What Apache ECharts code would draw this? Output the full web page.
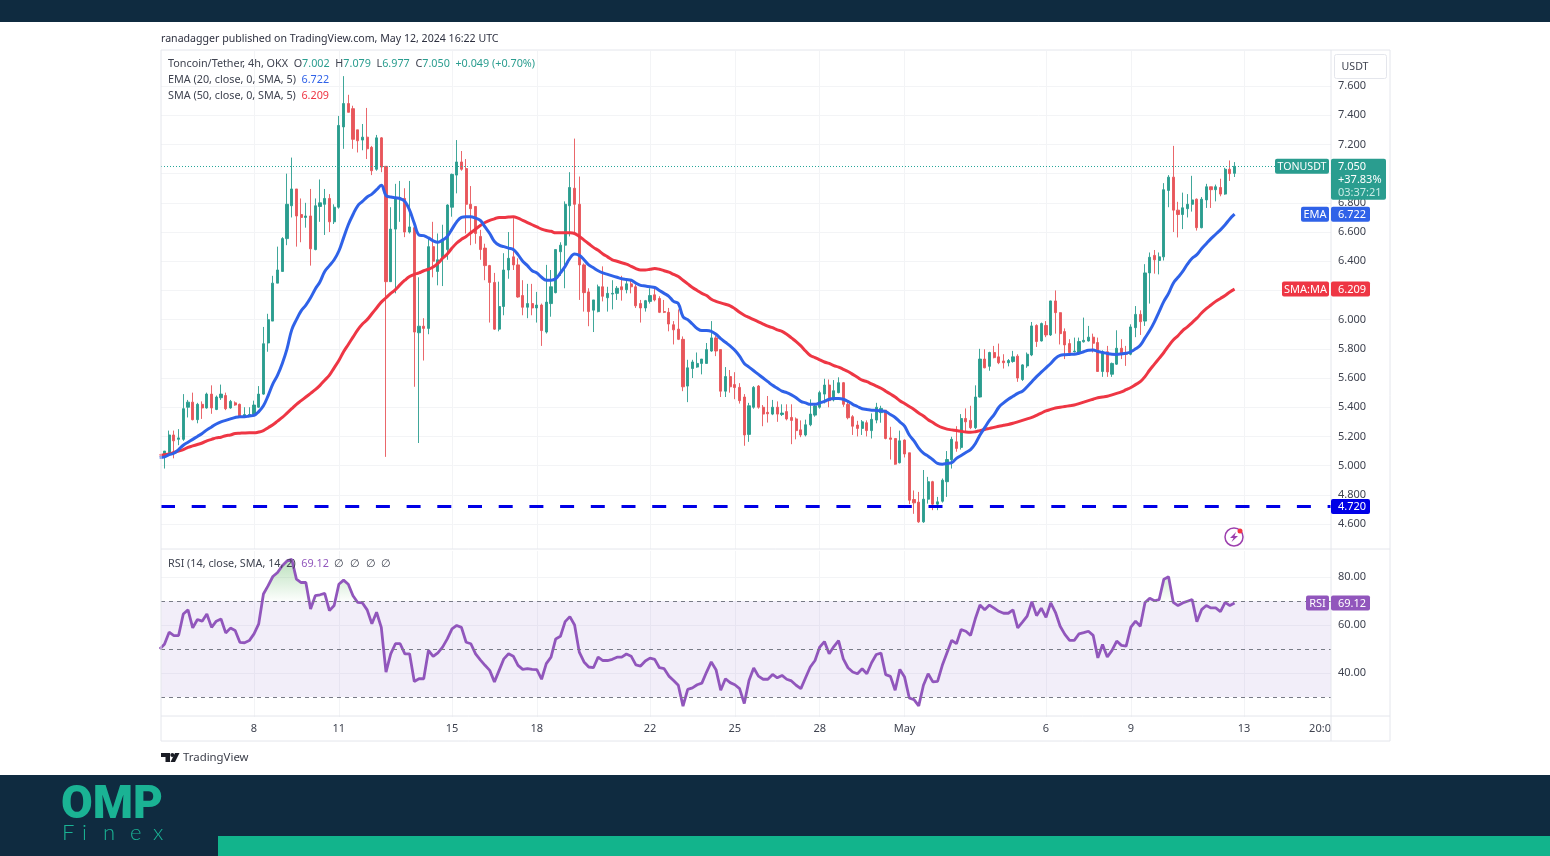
<!DOCTYPE html>
<html>
<head>
<meta charset="utf-8">
<title>TONUSDT 4h</title>
<script src="https://cdn.jsdelivr.net/npm/echarts@6/dist/echarts.min.js"></script>
<style>
  html, body { margin: 0; padding: 0; background: #fff; }
  #chart { width: 1550px; height: 856px; }
</style>
</head>
<body>
<div id="chart"></div>
<script>
// 4h bars, first one opens Apr 4 16:00 UTC, last one May 12 16:00 UTC
const firstBar = Date.UTC(2024, 3, 4, 16)
const barMs = 4 * 3600 * 1000

// [open, close, low, high]
const candles = [
  [5.08,5.05,5.04,5.10],[5.06,5.10,4.98,5.10],[5.09,5.21,5.08,5.24],[5.21,5.17,5.05,5.24],
  [5.18,5.19,5.14,5.25],[5.18,5.39,5.17,5.49],[5.40,5.435,5.33,5.45],[5.435,5.315,5.31,5.50],
  [5.315,5.42,5.29,5.43],[5.42,5.395,5.32,5.44],[5.395,5.49,5.39,5.50],[5.49,5.395,5.355,5.55],
  [5.385,5.47,5.38,5.48],[5.465,5.49,5.45,5.555],[5.48,5.39,5.38,5.50],[5.395,5.44,5.39,5.45],
  [5.43,5.415,5.41,5.44],[5.42,5.34,5.335,5.425],[5.34,5.35,5.335,5.40],[5.34,5.35,5.335,5.40],
  [5.35,5.415,5.34,5.445],[5.40,5.49,5.395,5.545],[5.49,5.835,5.485,5.95],[5.84,6.0,5.78,6.04],
  [5.99,6.25,5.99,6.30],[6.25,6.34,6.25,6.50],[6.33,6.555,6.33,6.565],[6.555,6.79,6.51,7.0],
  [6.78,6.895,6.70,7.11],[6.895,6.71,6.50,6.895],[6.72,6.70,6.53,6.83],[6.70,6.71,6.63,6.80],
  [6.71,6.485,6.37,6.895],[6.48,6.78,6.475,6.83],[6.775,6.80,6.67,6.96],[6.79,6.83,6.58,6.895],
  [6.83,6.67,6.60,6.86],[6.67,6.77,6.655,6.79],[6.77,7.33,6.76,7.395],[7.32,7.48,7.17,7.668],
  [7.48,7.42,7.42,7.54],[7.445,7.235,7.17,7.465],[7.30,7.225,7.145,7.30],[7.23,7.25,7.16,7.34],
  [7.25,7.17,7.10,7.45],[7.18,7.02,6.99,7.19],[7.03,7.245,7.02,7.265],[7.245,7.045,7.01,7.25],
  [7.05,6.26,5.06,7.05],[6.26,6.62,6.26,6.77],[6.62,6.83,6.18,6.93],[6.82,6.83,6.67,6.95],
  [6.83,6.60,6.565,6.90],[6.60,6.635,6.59,6.95],[6.63,5.915,5.54,6.63],[5.91,5.955,5.155,6.29],
  [5.955,5.94,5.72,6.01],[5.94,6.50,5.90,6.555],[6.50,6.40,6.29,6.67],[6.33,6.41,6.235,6.59],
  [6.42,6.55,6.23,6.65],[6.48,6.785,6.41,6.79],[6.77,6.995,6.705,7.0],[6.99,7.08,6.865,7.23],
  [7.08,7.03,7.02,7.155],[7.035,6.79,6.59,7.10],[6.79,6.76,6.51,6.915],[6.775,6.59,6.52,6.775],
  [6.57,6.48,6.41,6.615],[6.49,6.37,6.27,6.52],[6.37,6.255,5.98,6.375],[6.255,5.935,5.93,6.32],
  [5.935,6.09,5.92,6.26],[6.09,6.34,6.03,6.455],[6.34,6.42,6.28,6.60],[6.43,6.375,6.34,6.695],
  [6.375,6.155,6.15,6.42],[6.165,6.085,6.03,6.27],[6.085,6.11,6.01,6.245],[6.11,6.08,6.03,6.245],
  [6.08,6.10,5.98,6.19],[6.10,5.925,5.82,6.11],[5.915,6.12,5.905,6.375],[6.11,6.225,6.02,6.34],
  [6.185,6.48,6.18,6.48],[6.465,6.51,6.30,6.53],[6.51,6.79,6.215,6.81],[6.78,6.905,6.57,7.01],
  [6.90,6.79,6.59,7.24],[6.79,6.375,6.135,6.98],[6.375,6.185,6.055,6.385],[6.19,6.055,5.955,6.215],
  [6.065,6.135,5.915,6.135],[6.055,6.225,6.05,6.24],[6.225,6.16,6.125,6.365],[6.15,6.18,6.055,6.225],
  [6.175,6.18,6.07,6.27],[6.18,6.215,6.135,6.23],[6.225,6.205,6.13,6.30],[6.205,6.245,6.18,6.27],
  [6.245,6.225,6.18,6.27],[6.225,6.095,6.08,6.24],[6.11,6.08,5.98,6.135],[6.08,6.13,6.055,6.135],
  [6.125,6.165,6.11,6.215],[6.17,6.135,6.125,6.215],[6.145,6.05,6.045,6.16],[6.055,6.05,6.045,6.135],
  [6.05,5.97,5.92,6.08],[5.965,5.93,5.83,5.99],[5.935,5.865,5.86,6.07],[5.865,5.54,5.51,5.885],
  [5.545,5.67,5.435,5.725],[5.665,5.71,5.60,5.725],[5.675,5.70,5.67,5.775],[5.70,5.73,5.625,5.73],
  [5.70,5.795,5.70,5.84],[5.785,5.875,5.78,5.99],[5.875,5.785,5.75,5.89],[5.795,5.51,5.47,5.795],
  [5.51,5.61,5.47,5.675],[5.61,5.54,5.50,5.655],[5.555,5.535,5.455,5.64],[5.536,5.445,5.425,5.565],
  [5.47,5.21,5.136,5.49],[5.214,5.41,5.163,5.43],[5.40,5.536,5.39,5.545],[5.545,5.40,5.39,5.552],
  [5.40,5.353,5.27,5.415],[5.365,5.355,5.295,5.477],[5.353,5.40,5.346,5.45],[5.40,5.353,5.30,5.44],
  [5.35,5.36,5.34,5.42],[5.37,5.32,5.31,5.42],[5.33,5.31,5.147,5.42],[5.32,5.24,5.18,5.33],
  [5.245,5.21,5.195,5.31],[5.21,5.28,5.20,5.315],[5.28,5.353,5.27,5.454],[5.346,5.408,5.335,5.426],
  [5.40,5.50,5.39,5.513],[5.49,5.552,5.426,5.595],[5.552,5.445,5.40,5.59],[5.45,5.513,5.44,5.586],
  [5.50,5.568,5.495,5.605],[5.568,5.42,5.403,5.573],[5.42,5.328,5.317,5.437],[5.335,5.27,5.21,5.346],
  [5.278,5.255,5.20,5.307],[5.255,5.30,5.21,5.312],[5.294,5.24,5.20,5.31],[5.24,5.317,5.186,5.358],
  [5.312,5.40,5.29,5.43],[5.363,5.392,5.294,5.41],[5.38,5.186,5.18,5.38],[5.19,5.18,5.042,5.266],
  [5.186,5.01,5.006,5.186],[5.02,5.17,5.015,5.24],[5.175,5.08,5.056,5.18],[5.088,4.763,4.736,5.088],
  [4.768,4.745,4.67,4.83],[4.75,4.615,4.608,4.82],[4.615,4.77,4.608,4.97],[4.77,4.89,4.74,4.923],
  [4.89,4.736,4.695,4.896],[4.736,4.752,4.695,4.786],[4.756,4.90,4.747,4.912],[4.89,5.042,4.786,5.10],
  [5.04,5.18,4.98,5.198],[5.163,5.118,5.095,5.27],[5.125,5.323,5.11,5.353],[5.323,5.30,5.23,5.392],
  [5.31,5.26,5.25,5.41],[5.26,5.47,5.25,5.55],[5.47,5.73,5.467,5.80],[5.73,5.67,5.667,5.797],
  [5.68,5.775,5.65,5.78],[5.775,5.74,5.735,5.82],[5.745,5.705,5.695,5.836],[5.717,5.705,5.665,5.763],
  [5.705,5.72,5.68,5.73],[5.713,5.745,5.705,5.786],[5.75,5.60,5.574,5.763],[5.59,5.69,5.58,5.695],
  [5.683,5.763,5.67,5.775],[5.758,5.957,5.75,5.984],[5.96,5.85,5.813,5.968],[5.854,5.973,5.85,5.98],
  [5.96,5.895,5.88,5.99],[5.895,6.128,5.888,6.13],[6.128,6.048,5.904,6.20],[6.048,5.904,5.83,6.05],
  [5.918,5.827,5.73,5.94],[5.836,5.775,5.768,5.866],[5.78,5.785,5.775,5.877],[5.775,5.85,5.768,5.877],
  [5.848,5.858,5.843,6.014],[5.854,5.88,5.85,5.957],[5.88,5.838,5.775,5.904],[5.843,5.645,5.642,5.877],
  [5.645,5.78,5.608,5.79],[5.78,5.642,5.608,5.82],[5.626,5.70,5.608,5.706],[5.695,5.804,5.69,5.927],
  [5.804,5.768,5.73,5.866],[5.775,5.763,5.683,5.82],[5.763,5.95,5.756,5.968],[5.945,6.036,5.88,6.093],
  [6.036,5.986,5.895,6.064],[5.99,6.32,5.957,6.38],[6.32,6.427,6.11,6.46],[6.44,6.41,6.315,6.477],
  [6.405,6.43,6.31,6.46],[6.43,6.89,6.405,6.935],[6.885,6.976,6.77,6.99],[6.976,6.75,6.60,7.19],
  [6.75,6.72,6.563,6.807],[6.72,6.766,6.62,6.87],[6.76,6.79,6.70,6.86],[6.79,6.82,6.74,6.985],
  [6.825,6.63,6.61,6.83],[6.63,6.825,6.625,6.84],[6.82,6.91,6.765,6.93],[6.91,6.89,6.765,6.91],
  [6.89,6.91,6.81,6.925],[6.905,6.86,6.845,6.965],[6.86,7.03,6.855,7.04],[7.03,7.0,6.95,7.09],
  [7.002,7.05,6.977,7.079]
]

const ema20 = [
  5.055,5.06,5.075,5.085,5.11,5.14,5.16,5.18,5.20,5.22,5.245,5.265,5.285,5.30,5.31,5.32,
  5.33,5.335,5.335,5.34,5.344,5.37,5.41,5.48,5.56,5.62,5.70,5.80,5.93,6.00,6.06,6.10,
  6.15,6.21,6.26,6.33,6.37,6.41,6.47,6.56,6.65,6.72,6.78,6.81,6.84,6.86,6.89,6.92,
  6.85,6.84,6.835,6.83,6.81,6.75,6.66,6.58,6.575,6.56,6.54,6.53,6.545,6.57,6.62,6.67,
  6.70,6.705,6.705,6.695,6.68,6.635,6.59,6.535,6.51,6.50,6.49,6.48,6.445,6.40,6.37,6.335,
  6.32,6.29,6.27,6.27,6.28,6.32,6.365,6.42,6.45,6.44,6.41,6.375,6.355,6.335,6.32,6.31,
  6.30,6.29,6.28,6.275,6.27,6.25,6.235,6.23,6.225,6.22,6.20,6.18,6.16,6.125,6.11,6.02,
  6.0,5.97,5.94,5.925,5.925,5.92,5.90,5.87,5.845,5.82,5.79,5.75,5.70,5.675,5.65,5.625,
  5.60,5.575,5.55,5.53,5.51,5.50,5.485,5.465,5.44,5.43,5.42,5.42,5.43,5.44,5.455,5.46,
  5.46,5.455,5.44,5.42,5.405,5.39,5.385,5.38,5.378,5.375,5.37,5.35,5.33,5.30,5.27,5.21,
  5.17,5.12,5.085,5.065,5.04,5.015,5.01,5.015,5.02,5.05,5.07,5.09,5.11,5.15,5.21,5.26,
  5.31,5.35,5.40,5.43,5.455,5.475,5.495,5.51,5.54,5.575,5.61,5.64,5.67,5.70,5.735,5.755,
  5.76,5.762,5.763,5.77,5.78,5.79,5.792,5.782,5.775,5.768,5.763,5.762,5.765,5.77,5.78,5.80,
  5.825,5.875,5.925,5.985,6.055,6.125,6.18,6.25,6.29,6.33,6.38,6.42,6.445,6.485,6.52,6.555,
  6.585,6.615,6.65,6.69,6.722
]

const sma50 = [
  5.07,5.075,5.08,5.09,5.10,5.11,5.125,5.135,5.145,5.155,5.17,5.18,5.19,5.195,5.205,5.21,
  5.22,5.222,5.224,5.225,5.225,5.23,5.24,5.26,5.28,5.305,5.33,5.36,5.39,5.42,5.445,5.47,
  5.495,5.52,5.55,5.585,5.62,5.67,5.72,5.78,5.83,5.88,5.93,5.97,6.00,6.04,6.08,6.12,
  6.15,6.18,6.205,6.24,6.27,6.295,6.31,6.32,6.335,6.345,6.36,6.385,6.42,6.45,6.49,6.525,
  6.55,6.57,6.595,6.62,6.645,6.665,6.68,6.69,6.70,6.70,6.703,6.705,6.695,6.68,6.665,6.65,
  6.635,6.62,6.61,6.605,6.595,6.595,6.595,6.595,6.59,6.57,6.545,6.52,6.495,6.475,6.45,6.43,
  6.41,6.40,6.39,6.38,6.365,6.35,6.34,6.34,6.345,6.35,6.345,6.335,6.325,6.31,6.295,6.27,
  6.245,6.22,6.20,6.18,6.165,6.14,6.125,6.115,6.105,6.095,6.075,6.05,6.03,6.015,6.0,5.985,
  5.97,5.955,5.945,5.93,5.92,5.90,5.875,5.85,5.82,5.785,5.755,5.74,5.725,5.71,5.70,5.685,
  5.675,5.66,5.645,5.625,5.605,5.585,5.575,5.56,5.545,5.53,5.51,5.49,5.47,5.445,5.425,5.405,
  5.385,5.36,5.34,5.315,5.295,5.275,5.26,5.25,5.245,5.24,5.235,5.23,5.228,5.232,5.24,5.248,
  5.255,5.262,5.27,5.276,5.282,5.29,5.30,5.31,5.32,5.33,5.345,5.36,5.375,5.385,5.395,5.40,
  5.405,5.41,5.415,5.425,5.435,5.445,5.455,5.465,5.47,5.475,5.485,5.495,5.505,5.52,5.535,5.555,
  5.575,5.61,5.655,5.695,5.735,5.775,5.82,5.86,5.89,5.925,5.95,5.98,6.01,6.045,6.075,6.10,
  6.125,6.145,6.165,6.19,6.209
]

const rsi14 = [
  50,52,57,55.6,55.6,64.6,66.3,58.8,62.3,61.6,64.6,59,61.6,62.5,56.7,58.7,
  57.7,52.8,52.6,53.5,56.3,60.5,72.9,76.4,80.2,81.9,84.7,86.7,87.4,79.1,77.7,77.7,
  66.7,72.2,72.6,73.2,66,68.1,77,78.7,77,72.2,69.4,69.2,66.3,60.5,65.3,59,
  40.4,48,52.2,52.2,48,48,36.5,37.6,37.6,49.4,46.9,48.4,50.8,54.2,58.4,59.8,
  59,52.8,52.2,48,45.5,43.2,41.1,36.3,41.1,45.9,48,47,43.2,41.5,41.8,41.5,
  41.4,37.4,43.9,46.6,54.2,55.3,61.4,63.5,60,48.7,44.6,42.5,42.2,46.6,45.2,45.2,
  45.7,46.6,46.6,47.9,47,43.4,42.9,45,46.2,45.7,42.2,41.8,38.7,36.9,34.9,26.2,
  33.2,33.8,35.1,35.8,40.4,44.6,41.4,32.8,37.6,36,35.1,33.5,27.3,36.9,42.1,38.7,
  37.4,37.4,39.4,38,39,37.4,36.7,34.9,33.5,38,42.5,45.2,50.8,53.1,48,51,
  53.5,45.9,42.2,40.4,39.7,41.8,39.7,44.3,47.7,48.3,39.3,38.6,32.8,41.5,38.3,29.6,
  28.9,26.3,34.9,39.7,36.3,36.5,43.2,48.4,53.6,52.2,58.1,57.4,55.7,62.6,68.3,66.4,
  68.3,67,65.7,64.9,64.9,66.3,58.8,61.2,63.7,69.7,63.9,67,63.2,69.2,65.3,59.5,
  56.1,53.6,53.6,56.3,56.8,57.4,55.7,46.3,51.9,46.7,49.4,53.3,51.5,51.2,59.1,61.6,
  59.5,69.4,71.1,70.1,70.6,79.1,80.1,69.4,68.1,69.2,69.9,70.6,61.4,66.4,68.1,67.1,
  67.1,65.6,69.4,68.1,69.12
]

const priceTicks = [4.6, 4.8, 5.0, 5.2, 5.4, 5.6, 5.8, 6.0, 6.2, 6.4, 6.6, 6.8, 7.0, 7.2, 7.4, 7.6]
const rsiTicks = [40, 60, 80]
const rsiLevels = [30, 50, 70]
const supportLevel = 4.72
const lastPrice = 7.05

// date ticks on the bottom scale and what they print
const dayTicks = [
  [Date.UTC(2024, 3, 8), '8'], [Date.UTC(2024, 3, 11), '11'], [Date.UTC(2024, 3, 15), '15'],
  [Date.UTC(2024, 3, 18), '18'], [Date.UTC(2024, 3, 22), '22'], [Date.UTC(2024, 3, 25), '25'],
  [Date.UTC(2024, 3, 28), '28'], [Date.UTC(2024, 4, 1), 'May'], [Date.UTC(2024, 4, 6), '6'],
  [Date.UTC(2024, 4, 9), '9'], [Date.UTC(2024, 4, 13), '13']
]
const clippedTick = [Date.UTC(2024, 4, 15, 16, 30), '20:0']

const FONT = '"Noto Sans", sans-serif'
const NAVY = '#0f2b40'
const TEAL = '#2a9d8f'
const RED = '#e8565a'
const BLUE = '#2f62e8'
const SMA_RED = '#ee3644'
const PURPLE = '#9156bc'
const TEXT = '#3f4350'
const GRID = '#f3f4f6'
const BORDER = '#e4e6ec'

const times = candles.map((c, i) => firstBar + i * barMs)
const withTime = values => values.map((v, i) => [times[i], v])
const tickLabel = {}
dayTicks.concat([clippedTick]).forEach(t => tickLabel[t[0]] = t[1])

const xMin = Date.UTC(2024, 3, 4, 17, 5)
const xMax = Date.UTC(2024, 4, 16, 1, 49)

const chart = echarts.init(document.getElementById('chart'), null, { renderer: 'canvas' })

// plain value axis over timestamps: the time axis chokes on customValues
const timeAxis = (gridIndex, showLabels) => ({
  type: 'value',
  gridIndex,
  min: xMin,
  max: xMax,
  axisLine: { show: false },
  axisTick: { show: false, customValues: dayTicks.map(t => t[0]) },
  splitLine: { show: true, lineStyle: { color: GRID, width: 1 } },
  axisLabel: {
    show: showLabels,
    customValues: dayTicks.concat([clippedTick]).map(t => t[0]),
    formatter: value => tickLabel[Math.round(value)] || '',
    color: TEXT,
    fontFamily: FONT,
    fontSize: 11,
    margin: 6,
    hideOverlap: false
  }
})

const valueAxis = (gridIndex, min, max, ticks, digits) => ({
  type: 'value',
  gridIndex,
  position: 'right',
  min,
  max,
  scale: true,
  axisLine: { show: false },
  axisTick: { show: false, customValues: ticks },
  splitLine: { show: true, lineStyle: { color: GRID, width: 1 } },
  axisLabel: {
    customValues: ticks,
    formatter: value => value.toFixed(digits),
    color: TEXT,
    fontFamily: FONT,
    fontSize: 11,
    margin: 7
  }
})

chart.setOption({
  animation: false,
  backgroundColor: '#fff',
  grid: [
    { left: 161, width: 1170, top: 51, height: 498 },
    { left: 161, width: 1170, top: 551, height: 166 }
  ],
  xAxis: [timeAxis(0, false), timeAxis(1, true)],
  yAxis: [
    valueAxis(0, 4.429, 7.84, priceTicks, 3),
    valueAxis(1, 21.67, 90.83, rsiTicks, 2)
  ],
  series: [
    {
      name: 'TONUSDT',
      type: 'candlestick',
      xAxisIndex: 0,
      yAxisIndex: 0,
      barWidth: 2.6,
      clip: true,
      itemStyle: { color: TEAL, color0: RED, borderColor: TEAL, borderColor0: RED, borderWidth: 0.9 },
      data: candles.map((c, i) => [times[i], c[0], c[1], c[2], c[3]]),
      markLine: {
        silent: true,
        symbol: 'none',
        animation: false,
        label: { show: false },
        data: [
          { yAxis: supportLevel, lineStyle: { color: '#0000e6', width: 3, type: [14, 16.7] } },
          { yAxis: lastPrice, lineStyle: { color: '#26a69a', width: 1, type: [1, 2] } }
        ]
      }
    },
    {
      name: 'SMA 50',
      type: 'line',
      xAxisIndex: 0,
      yAxisIndex: 0,
      showSymbol: false,
      smooth: 0.4,
      lineStyle: { color: SMA_RED, width: 3 },
      data: withTime(sma50)
    },
    {
      name: 'EMA 20',
      type: 'line',
      xAxisIndex: 0,
      yAxisIndex: 0,
      showSymbol: false,
      smooth: 0.4,
      lineStyle: { color: BLUE, width: 3 },
      data: withTime(ema20)
    },
    {
      // green wash above the 70 level
      name: 'RSI overbought',
      type: 'line',
      xAxisIndex: 1,
      yAxisIndex: 1,
      showSymbol: false,
      lineStyle: { width: 0 },
      areaStyle: {
        origin: 70,
        color: new echarts.graphic.LinearGradient(0, 556, 0, 601, [
          { offset: 0, color: 'rgba(76,175,80,0.6)' },
          { offset: 1, color: 'rgba(76,175,80,0.02)' }
        ], true)
      },
      data: withTime(rsi14.map(v => Math.max(v, 70)))
    },
    {
      name: 'RSI',
      type: 'line',
      xAxisIndex: 1,
      yAxisIndex: 1,
      showSymbol: false,
      lineStyle: { color: PURPLE, width: 2.8 },
      data: withTime(rsi14),
      markArea: {
        silent: true,
        itemStyle: { color: 'rgba(126,87,194,0.1)' },
        data: [[{ yAxis: rsiLevels[0] }, { yAxis: rsiLevels[2] }]]
      },
      markLine: {
        silent: true,
        symbol: 'none',
        animation: false,
        label: { show: false },
        lineStyle: { color: '#787b86', width: 1, type: [4, 4] },
        data: rsiLevels.map(v => ({ yAxis: v }))
      }
    }
  ]
})

// value tags on the price scale sit where the axis puts their value
const priceY = v => chart.convertToPixel({ yAxisIndex: 0 }, v)
const rsiY = v => chart.convertToPixel({ yAxisIndex: 1 }, v)

function box(x, y, w, h, fill, r) {
  return { type: 'rect', silent: true, z: 50, shape: { x, y, width: w, height: h, r: r || 0 }, style: { fill } }
}
function label(x, y, text, fill, opts) {
  return {
    type: 'text', silent: true, z: 51, x, y,
    style: Object.assign({ text, fill, font: '11px ' + FONT, textVerticalAlign: 'middle', textAlign: 'left' }, opts || {})
  }
}
function tag(name, value, y, color, nameX) {
  const els = [box(1331, y - 7.5, 39, 15, color, 2), label(1338, y + 0.5, value, '#fff')]
  if (name) {
    els.push(box(nameX, y - 7.5, 1329 - nameX, 15, color, 2))
    els.push(label((nameX + 1329) / 2, y + 0.5, name, '#fff', { textAlign: 'center' }))
  }
  return els
}
function hline(x1, y, x2) {
  return { type: 'line', silent: true, z: 40, shape: { x1, y1: y, x2, y2: y }, style: { stroke: BORDER, lineWidth: 1 } }
}
function vline(x, y1, y2) {
  return { type: 'line', silent: true, z: 40, shape: { x1: x, y1, x2: x, y2 }, style: { stroke: BORDER, lineWidth: 1 } }
}

const lastY = priceY(lastPrice)
const legendRich = {
  k: { fill: TEXT, font: '10.8px ' + FONT },
  g: { fill: TEAL, font: '10.8px ' + FONT },
  b: { fill: BLUE, font: '10.8px ' + FONT },
  r: { fill: SMA_RED, font: '10.8px ' + FONT },
  p: { fill: PURPLE, font: '10.8px ' + FONT }
}
const richText = (x, y, text) => ({
  type: 'text', silent: true, z: 51, x, y,
  style: { text, rich: legendRich, fill: TEXT, font: '10.8px ' + FONT, textVerticalAlign: 'middle' }
})
// logo word, letters spread by hand
const finexLetters = [['F', 62], ['i', 82], ['n', 103], ['e', 130], ['x', 153]]

chart.setOption({
  graphic: [
    // page bands
    box(0, 0, 1550, 22, NAVY),
    box(0, 775, 1550, 81, NAVY),
    box(218, 836, 1332, 20, '#12b48c'),
    { type: 'text', silent: true, z: 51, x: 61, y: 806, style: { text: 'OMP', fill: '#1ab394', font: '900 46px Roboto, ' + FONT, textVerticalAlign: 'middle' } },
    ...finexLetters.map(l => ({
      type: 'text', silent: true, z: 51, x: l[1], y: 833,
      style: { text: l[0], fill: '#1ab394', font: '300 22px Lato, ' + FONT, textVerticalAlign: 'middle' }
    })),

    // chart frame
    vline(161, 50, 741), vline(1390, 50, 741), vline(1331, 50, 741),
    hline(161, 50, 1390), hline(161, 549, 1390), hline(161, 716, 1390), hline(161, 741, 1390),

    label(161, 39, 'ranadagger published on TradingView.com, May 12, 2024 16:22 UTC', '#2e3140', { font: '10.6px ' + FONT }),
    richText(168, 64, '{k|Toncoin/Tether, 4h, OKX  O}{g|7.002}{k|  H}{g|7.079}{k|  L}{g|6.977}{k|  C}{g|7.050}{g|  +0.049 (+0.70%)}'),
    richText(168, 80, '{k|EMA (20, close, 0, SMA, 5)  }{b|6.722}'),
    richText(168, 96, '{k|SMA (50, close, 0, SMA, 5)  }{r|6.209}'),
    richText(168, 564, '{k|RSI (14, close, SMA, 14, 2)  }{p|69.12}{k|  ∅  ∅  ∅  ∅}'),

    // currency button
    { type: 'rect', silent: true, z: 50, shape: { x: 1334.5, y: 54.5, width: 52, height: 24, r: 2 }, style: { fill: '#fff', stroke: BORDER, lineWidth: 1 } },
    label(1355, 67, 'USDT', TEXT, { textAlign: 'center', font: '10.6px ' + FONT }),

    // last price tag
    box(1275, lastY - 7.5, 54, 15, TEAL, 2),
    label(1302, lastY + 0.5, 'TONUSDT', '#fff', { textAlign: 'center', font: '10.6px ' + FONT }),
    box(1331, lastY - 7.5, 55, 41, TEAL, 2),
    label(1338, lastY + 0.5, '7.050', '#fff'),
    label(1338, lastY + 13.5, '+37.83%', '#fff'),
    label(1338, lastY + 26.5, '03:37:21', '#c8ebe6'),

    ...tag('EMA', '6.722', priceY(6.722), BLUE, 1301),
    ...tag('SMA:MA', '6.209', priceY(6.209), SMA_RED, 1282),
    ...tag(null, '4.720', priceY(supportLevel), '#0000e6'),
    ...tag('RSI', '69.12', rsiY(69.12), PURPLE, 1306),

    // alert icon
    { type: 'circle', silent: true, z: 50, shape: { cx: 1234, cy: 537, r: 9 }, style: { fill: '#fff', stroke: '#9c3fae', lineWidth: 1.5 } },
    { type: 'polygon', silent: true, z: 51, shape: { points: [[1236, 532], [1230, 538], [1233.5, 538], [1231.5, 542], [1238, 536], [1234.5, 536]] }, style: { fill: '#9c3fae' } },
    { type: 'circle', silent: true, z: 52, shape: { cx: 1240, cy: 531, r: 2.5 }, style: { fill: '#f23645' } },

    // TradingView mark
    { type: 'polygon', silent: true, z: 51, shape: { points: [[161, 753], [170, 753], [170, 762], [165.5, 762], [165.5, 757], [161, 757]] }, style: { fill: '#1a1c24' } },
    { type: 'circle', silent: true, z: 51, shape: { cx: 172.3, cy: 755, r: 2 }, style: { fill: '#1a1c24' } },
    { type: 'polygon', silent: true, z: 51, shape: { points: [[175, 753], [179.5, 753], [175, 762], [170.5, 762]] }, style: { fill: '#1a1c24' } },
    { type: 'text', silent: true, z: 51, x: 183, y: 758, style: { text: 'TradingView', fill: '#3a3d48', font: '11.4px ' + FONT, textVerticalAlign: 'middle' } }
  ]
})
</script>
</body>
</html>
